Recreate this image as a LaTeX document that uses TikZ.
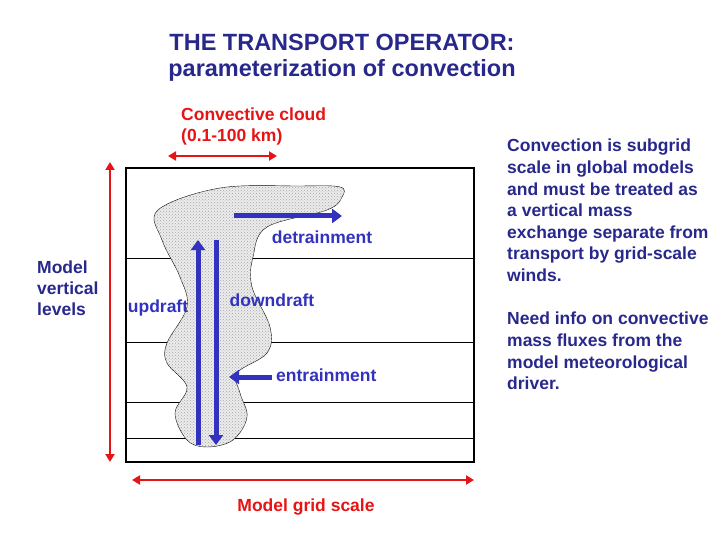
\documentclass[tikz,border=0pt]{standalone}
\usepackage{fontspec}
\setmainfont{Liberation Sans}
\usetikzlibrary{arrows.meta,patterns}
\definecolor{tblue}{RGB}{40,40,140}
\definecolor{ablue}{RGB}{50,50,190}
\definecolor{ared}{RGB}{230,20,20}
\begin{document}
\begin{tikzpicture}[x=1pt,y=-1pt,
  lbl/.style={font=\bfseries\fontsize{17.5}{21}\selectfont,inner sep=0pt},
  redarr/.style={ared,line width=2.5pt,{Triangle[length=8pt,width=9pt]}-{Triangle[length=8pt,width=9pt]}},
  bluearr/.style={ablue,line width=5pt,-{Triangle[length=10pt,width=14pt]}},
  level/.style={black,line width=0.6pt}]
\useasboundingbox (0,0) rectangle (720,540);
\node[lbl,tblue,align=center,font=\bfseries\fontsize{23.5}{26}\selectfont] (title) at (342,58) {THE TRANSPORT OPERATOR:\\parameterization of convection};
\node[lbl,ared,align=left,anchor=north west] (cc) at (181,108) {Convective cloud\\(0.1-100 km)};
\coordinate (c1) at (168,156); \coordinate (c2) at (277,156);
\draw[redarr] (c1) -- (c2);
\coordinate (b1) at (126,168); \coordinate (b2) at (474,462);
\foreach \yy in {258,342,402,438} \draw[level] (126,\yy) -- (474,\yy);
\draw[fill=gray!15,thin] plot[smooth cycle,tension=0.6] coordinates{(158,210)(220,188)(300,186)(340,187)(342,197)(327,210)(267,227)(253,257)(252,287)(270,327)(267,353)(237,373)(240,393)(247,417)(233,440)(207,447)(187,440)(175,413)(187,387)(167,363)(167,343)(187,307)(180,277)(162,240)};
\path[pattern=crosshatch dots,pattern color=gray!70] plot[smooth cycle,tension=0.6] coordinates{(158,210)(220,188)(300,186)(340,187)(342,197)(327,210)(267,227)(253,257)(252,287)(270,327)(267,353)(237,373)(240,393)(247,417)(233,440)(207,447)(187,440)(175,413)(187,387)(167,363)(167,343)(187,307)(180,277)(162,240)};
\draw[line width=1.5pt] (b1) rectangle (b2);
\coordinate (u0) at (198,445); \coordinate (u1) at (198,240);
\coordinate (d0) at (216,240); \coordinate (d1) at (216,445);
\coordinate (t0) at (234,216); \coordinate (t1) at (342,216);
\coordinate (e0) at (272,377); \coordinate (e1) at (229,377);
\draw[bluearr] (u0) -- (u1);
\draw[bluearr] (d0) -- (d1);
\draw[bluearr] (t0) -- (t1);
\draw[bluearr] (e0) -- (e1);
\node[lbl,ablue] (det) at (322,237) {detrainment};
\node[lbl,ablue] (down) at (272,300) {downdraft};
\node[lbl,ablue] (up) at (158,308) {updraft};
\node[lbl,ablue,anchor=west] (ent) at (276,375) {entrainment};
\coordinate (g1) at (132,480); \coordinate (g2) at (474,480);
\draw[redarr] (g1) -- (g2);
\node[lbl,ared] (mgs) at (306,507) {Model grid scale};
\coordinate (v1) at (110,162); \coordinate (v2) at (110,462);
\draw[redarr] (v1) -- (v2);
\node[lbl,tblue,align=left,anchor=west] (mvl) at (37,288) {Model\\vertical\\levels};
\node[lbl,tblue,align=left,anchor=north west,font=\bfseries\fontsize{17.5}{21.6}\selectfont] (r1) at (507,139) {Convection is subgrid\\scale in global models\\and must be treated as\\a vertical mass\\exchange separate from\\transport by grid-scale\\winds.};
\node[lbl,tblue,align=left,anchor=north west,font=\bfseries\fontsize{17.5}{21.6}\selectfont] (r2) at (507,312) {Need info on convective\\mass fluxes from the\\model meteorological\\driver.};
\end{tikzpicture}
\end{document}
